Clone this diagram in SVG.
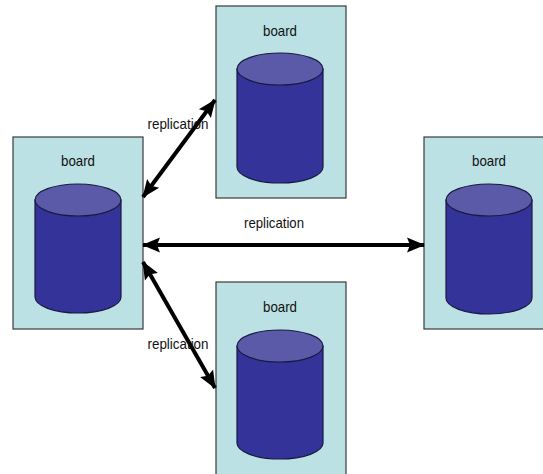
<svg xmlns="http://www.w3.org/2000/svg" width="543" height="474" viewBox="0 0 543 474">
<defs>
<style>
.box{fill:#bbe1e4;stroke:#3a3a3a;stroke-width:1.2}
.body{fill:#333399;stroke:#1a1a40;stroke-width:1.2}
.top{fill:#5a5aa8;stroke:#1a1a40;stroke-width:1.2}
.lbl{font-family:"Liberation Sans",Arial,sans-serif;font-size:15px;fill:#111;text-anchor:middle}
.conn{stroke:#000;stroke-width:4;fill:none;marker-start:url(#ah);marker-end:url(#ah)}
</style>
<marker id="ah" markerUnits="userSpaceOnUse" markerWidth="18" markerHeight="18" viewBox="0 0 18 18" refX="17" refY="9" orient="auto-start-reverse">
<path d="M0,1.5 L18,9 L0,16.5 L3,9 z" fill="#000"/>
</marker>
</defs>
<g id="board-top">
<rect class="box" x="216" y="6" width="130" height="192"/>
<path class="body" d="M237,69 L237,167 A43,16 0 0 0 323,167 L323,69 z"/>
<ellipse class="top" cx="280" cy="69" rx="43" ry="16"/>
<text class="lbl" x="280" y="36" textLength="34" lengthAdjust="spacingAndGlyphs">board</text>
</g>
<g id="board-left">
<rect class="box" x="13" y="137" width="130" height="192"/>
<path class="body" d="M35,200 L35,297 A43,16 0 0 0 121,297 L121,200 z"/>
<ellipse class="top" cx="78" cy="200" rx="43" ry="16"/>
<text class="lbl" x="78" y="166" textLength="34" lengthAdjust="spacingAndGlyphs">board</text>
</g>
<g id="board-right">
<rect class="box" x="424" y="137" width="130" height="192"/>
<path class="body" d="M446,200 L446,298 A43,16 0 0 0 532,298 L532,200 z"/>
<ellipse class="top" cx="489" cy="200" rx="43" ry="16"/>
<text class="lbl" x="489" y="166" textLength="34" lengthAdjust="spacingAndGlyphs">board</text>
</g>
<g id="board-bottom">
<rect class="box" x="216" y="282" width="130" height="193"/>
<path class="body" d="M237,346 L237,443 A43,16 0 0 0 323,443 L323,346 z"/>
<ellipse class="top" cx="280" cy="346" rx="43" ry="16"/>
<text class="lbl" x="280" y="312" textLength="34" lengthAdjust="spacingAndGlyphs">board</text>
</g>
<g id="connectors">
<line class="conn" x1="143" y1="197" x2="215" y2="100"/>
<line class="conn" x1="143" y1="245" x2="424" y2="245"/>
<line class="conn" x1="143" y1="262" x2="215" y2="388"/>
<text class="lbl" x="178" y="129" textLength="61" lengthAdjust="spacingAndGlyphs">replication</text>
<text class="lbl" x="274" y="228" textLength="60" lengthAdjust="spacingAndGlyphs">replication</text>
<text class="lbl" x="178" y="349" textLength="61" lengthAdjust="spacingAndGlyphs">replication</text>
</g>
</svg>
